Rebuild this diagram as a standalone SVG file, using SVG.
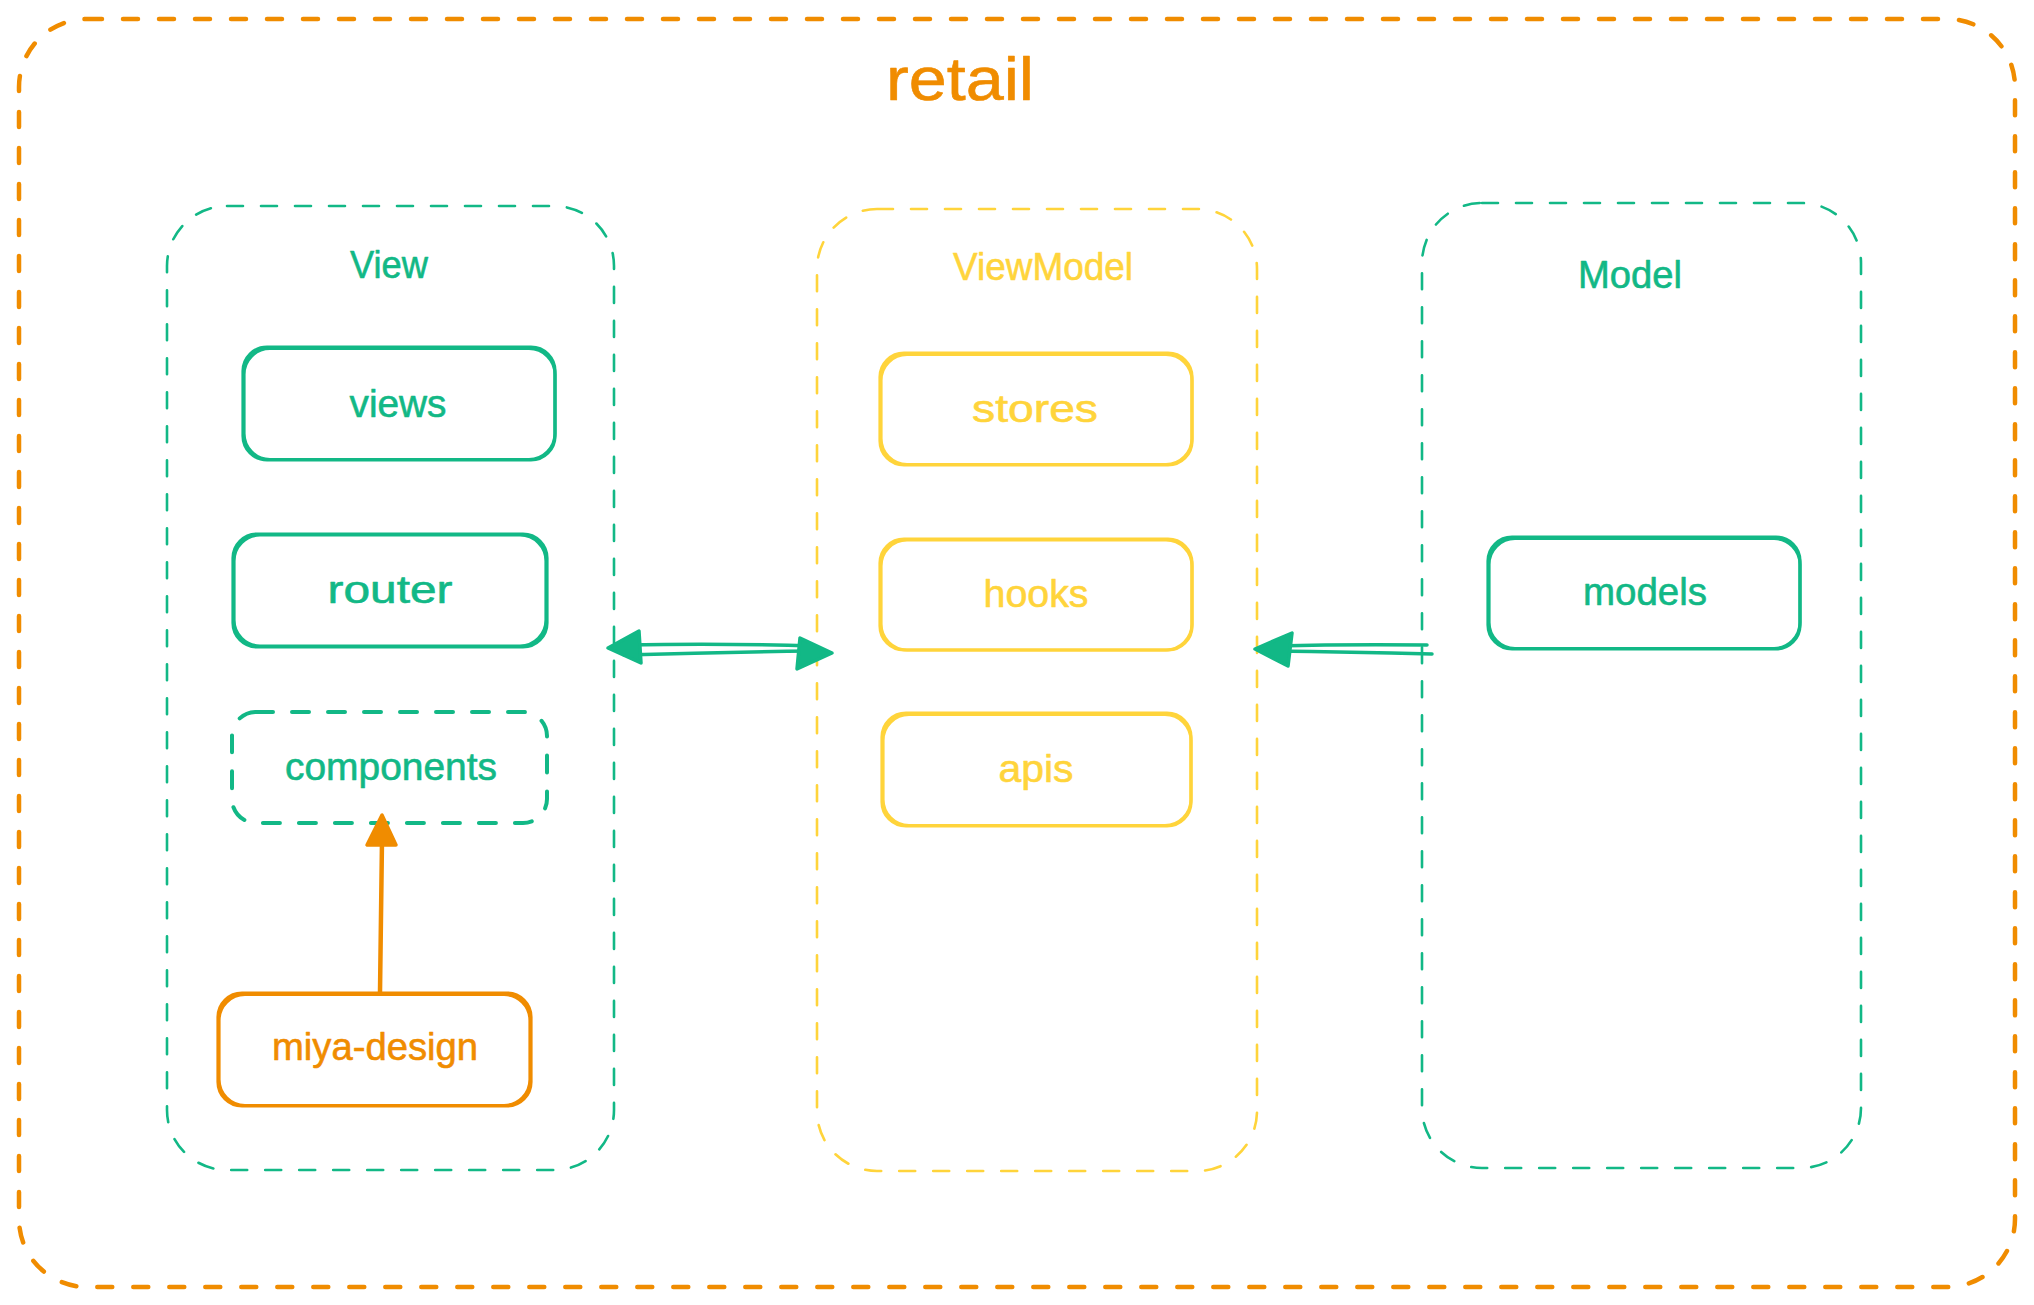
<svg xmlns="http://www.w3.org/2000/svg" width="2034" height="1305" viewBox="0 0 2034 1305">
<style>
.txt{font-family:"Liberation Sans","DejaVu Sans",sans-serif;font-size:38px;text-anchor:middle;stroke-width:0.6;stroke-linejoin:round}
.g{fill:#12b886;stroke:#12b886}.y{fill:#ffd43b;stroke:#ffd43b}.o{fill:#f08c00;stroke:#f08c00}
.grp{fill:none;stroke-width:2.6;stroke-dasharray:16 18;stroke-linecap:round}
.solid{fill:none;stroke-width:3.2;stroke-linejoin:round}
.gs{stroke:#12b886}.ys{stroke:#ffd43b}.os{stroke:#f08c00}
</style>
<rect width="2034" height="1305" fill="#ffffff"/>

<g id="retail">
  <rect x="19" y="19" width="1996" height="1268" rx="68" fill="none" stroke="#f08c00" stroke-width="4.5" stroke-dasharray="15 21" stroke-linecap="round"/>
  <text class="txt o" x="960" y="100" style="font-size:62px" textLength="148" lengthAdjust="spacingAndGlyphs">retail</text>
</g>

<g id="view-group">
  <rect class="grp gs" x="167" y="206" width="447" height="964" rx="60"/>
  <text class="txt g" x="389" y="278" textLength="78" lengthAdjust="spacingAndGlyphs">View</text>
</g>

<g id="viewmodel-group">
  <rect class="grp ys" x="817" y="209" width="440" height="962" rx="60"/>
  <text class="txt y" x="1043" y="280" textLength="180" lengthAdjust="spacingAndGlyphs">ViewModel</text>
</g>

<g id="model-group">
  <rect class="grp gs" x="1422" y="203" width="439" height="965" rx="60"/>
  <text class="txt g" x="1630" y="288" textLength="104" lengthAdjust="spacingAndGlyphs">Model</text>
</g>

<g id="views">
  <rect class="solid gs" x="243" y="347" width="312" height="113" rx="24"/>
  <rect class="solid gs" x="244" y="348.5" width="311" height="111" rx="26"/>
  <text class="txt g" x="398" y="417" textLength="97" lengthAdjust="spacingAndGlyphs">views</text>
</g>

<g id="router">
  <rect class="solid gs" x="233" y="534" width="314" height="113" rx="24"/>
  <rect class="solid gs" x="234" y="535" width="312" height="111" rx="26"/>
  <text class="txt g" x="390" y="603" textLength="125" lengthAdjust="spacingAndGlyphs">router</text>
</g>

<g id="components">
  <rect x="232" y="712" width="315" height="111" rx="24" fill="none" stroke="#12b886" stroke-width="4" stroke-dasharray="17 19" stroke-linecap="round"/>
  <text class="txt g" x="391" y="780" textLength="212" lengthAdjust="spacingAndGlyphs">components</text>
</g>

<g id="miya-design">
  <rect class="solid os" x="218" y="993" width="313" height="113" rx="24"/>
  <rect class="solid os" x="219" y="994.5" width="311" height="111" rx="26"/>
  <text class="txt o" x="375" y="1060" textLength="206" lengthAdjust="spacingAndGlyphs">miya-design</text>
</g>

<g id="stores">
  <rect class="solid ys" x="880" y="353" width="312" height="112" rx="24"/>
  <rect class="solid ys" x="881" y="354.5" width="311" height="110" rx="26"/>
  <text class="txt y" x="1035" y="422" textLength="126" lengthAdjust="spacingAndGlyphs">stores</text>
</g>

<g id="hooks">
  <rect class="solid ys" x="880" y="539" width="312" height="111" rx="24"/>
  <rect class="solid ys" x="881" y="540" width="311" height="110" rx="26"/>
  <text class="txt y" x="1036" y="607" textLength="105" lengthAdjust="spacingAndGlyphs">hooks</text>
</g>

<g id="apis">
  <rect class="solid ys" x="882" y="713" width="309" height="113" rx="24"/>
  <rect class="solid ys" x="883" y="714.5" width="308" height="111" rx="26"/>
  <text class="txt y" x="1036" y="782" textLength="75" lengthAdjust="spacingAndGlyphs">apis</text>
</g>

<g id="models">
  <rect class="solid gs" x="1488" y="537" width="312" height="112" rx="24"/>
  <rect class="solid gs" x="1489" y="538.5" width="311" height="110" rx="26"/>
  <text class="txt g" x="1645" y="605" textLength="124" lengthAdjust="spacingAndGlyphs">models</text>
</g>

<g id="connectors" stroke-linecap="round" stroke-linejoin="round">
  <!-- View <-> ViewModel -->
  <path d="M 626 645 Q 720 643 814 646" fill="none" stroke="#12b886" stroke-width="3.5"/>
  <path d="M 624 655 Q 720 652 812 651" fill="none" stroke="#12b886" stroke-width="3.5"/>
  <path d="M 608 648 L 639 631 L 641 663 Z" fill="#12b886" stroke="#12b886" stroke-width="3.5"/>
  <path d="M 832 653 L 800 638 L 797 669 Z" fill="#12b886" stroke="#12b886" stroke-width="3.5"/>
  <!-- Model -> ViewModel -->
  <path d="M 1427 645 Q 1350 644 1275 646" fill="none" stroke="#12b886" stroke-width="3.5"/>
  <path d="M 1432 654 Q 1350 652 1272 651" fill="none" stroke="#12b886" stroke-width="3.5"/>
  <path d="M 1255 649 L 1292 633 L 1288 666 Z" fill="#12b886" stroke="#12b886" stroke-width="3.5"/>
  <!-- miya-design -> components -->
  <path d="M 380 992 L 382 840" fill="none" stroke="#f08c00" stroke-width="4.5"/>
  <path d="M 382 815 L 367 845 L 396 845 Z" fill="#f08c00" stroke="#f08c00" stroke-width="3.5"/>
</g>
</svg>
